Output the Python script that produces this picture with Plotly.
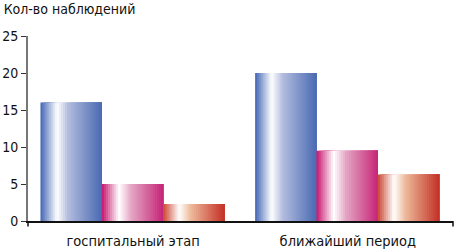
import plotly.graph_objects as go

categories = ["госпитальный этап", "ближайший период"]
series_a = [16, 20]
series_b = [5, 9.5]
series_c = [2.3, 6.3]
y_ticks = [0, 5, 10, 15, 20, 25]
title_text = "Кол-во наблюдений"

# gradient stops (position, rgb) for each series
grad_a = [(0.0, (66, 100, 178)), (0.27, (255, 255, 255)), (0.45, (178, 188, 222)), (1.0, (74, 106, 178))]
grad_b = [(0.0, (200, 18, 108)), (0.28, (255, 255, 255)), (0.48, (228, 165, 196)), (1.0, (198, 36, 118))]
grad_c = [(0.0, (204, 70, 48)), (0.26, (255, 255, 255)), (0.45, (236, 185, 155)), (1.0, (196, 48, 36))]


def interp(stops, t):
    for (p0, c0), (p1, c1) in zip(stops[:-1], stops[1:]):
        if p0 <= t <= p1:
            f = (t - p0) / (p1 - p0) if p1 > p0 else 0
            return "rgb(%d,%d,%d)" % tuple(round(a + (b - a) * f) for a, b in zip(c0, c1))
    return "rgb(%d,%d,%d)" % stops[-1][1]


fig = go.Figure()
xs = [0, 1]
bar_w = 0.286
group_start = -0.432
n_strips = 30
sw = bar_w / n_strips
for i, (vals, stops) in enumerate([(series_a, grad_a), (series_b, grad_b), (series_c, grad_c)]):
    for k in range(n_strips):
        t = (k + 0.5) / n_strips
        fig.add_trace(go.Bar(
            x=xs, y=vals,
            offset=group_start + i * bar_w + k * sw,
            width=bar_w - k * sw,
            marker=dict(color=interp(stops, t), line=dict(width=0)),
            showlegend=False, hoverinfo="skip",
        ))

FONT = "DejaVu Sans Condensed, Liberation Sans, sans-serif"
fig.update_layout(
    width=455, height=251,
    barmode="overlay",
    margin=dict(l=24, r=2, t=36, b=30),
    paper_bgcolor="white", plot_bgcolor="white",
    font=dict(family=FONT, size=14, color="#111"),
    title=dict(text=title_text, x=0.008, xref="container", xanchor="left",
               y=0.962, yref="container", yanchor="middle",
               font=dict(family=FONT, size=14, color="#111")),
    xaxis=dict(range=[-0.49, 1.49], tickvals=xs, ticktext=categories,
               showgrid=False, zeroline=False, showline=True, linecolor="#111",
               linewidth=1.5, ticks="", tickfont=dict(size=14.5), ticklabelstandoff=6),
    yaxis=dict(range=[0, 25], tickvals=y_ticks, showgrid=False, zeroline=False,
               showline=True, linecolor="#777", linewidth=2, ticks="outside",
               ticklen=5, tickcolor="#333", tickwidth=1, tickfont=dict(size=14)),
)
for xp in [0, 1]:
    fig.add_shape(type="line", xref="paper", yref="paper", x0=xp, x1=xp, y0=0, y1=-0.03,
                  line=dict(color="#111", width=1.5))

fig.write_html("out.html", config={"displayModeBar": False},
               post_script="document.body.style.margin='0px';document.body.style.padding='0px';")
